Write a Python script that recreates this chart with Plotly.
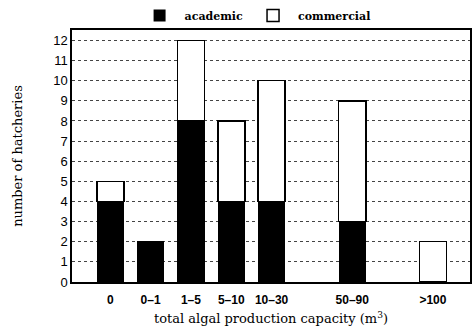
import plotly.graph_objects as go

# Data
bins = ["0", "0-1", "1-5", "5-10", "10-30", "30-50", "50-90", "90-100", ">100"]
labeled_bins = ["0", "0-1", "1-5", "5-10", "10-30", "50-90", ">100"]
tick_labels = ["0", "0\u20131", "1\u20135", "5\u201310", "10\u201330", "50\u201390", ">100"]
academic = [4, 2, 8, 4, 4, 3, 0]
commercial = [1, 0, 4, 4, 6, 6, 2]
y_ticks = list(range(0, 13))

fig = go.Figure()
fig.add_trace(go.Bar(
    x=labeled_bins, y=academic, name="academic",
    marker=dict(color="black", line=dict(color="black", width=0)),
    width=0.68,
))
fig.add_trace(go.Bar(
    x=labeled_bins, y=commercial, name="commercial",
    marker=dict(color="white", line=dict(color="black", width=1.5)),
    width=0.67,
))

fig.update_layout(
    barmode="stack",
    width=473, height=331,
    margin=dict(l=72, r=1, t=28, b=49),
    paper_bgcolor="white", plot_bgcolor="white",
    font=dict(family="DejaVu Serif", color="black", size=12),
    showlegend=True,
    legend=dict(
        orientation="h", x=0.46, xanchor="center", y=1.0, yanchor="bottom",
        font=dict(family="DejaVu Serif", size=11, color="black", weight="bold"),
        itemwidth=40, traceorder="normal", tracegroupgap=0,
        bgcolor="rgba(0,0,0,0)",
    ),
    xaxis=dict(
        type="category", categoryorder="array", categoryarray=bins,
        range=[-0.95, 8.92],
        tickvals=labeled_bins, ticktext=tick_labels,
        tickfont=dict(family="Liberation Sans", size=12, color="black", weight="bold"),
        showgrid=False, showline=True, linecolor="black", linewidth=1.5, mirror=True,
        ticks="outside", ticklen=6, tickcolor="white", zeroline=False,
        title=dict(text="total algal production capacity (m<sup>3</sup>)",
                   font=dict(family="DejaVu Serif", size=13), standoff=8),
    ),
    yaxis=dict(
        range=[0, 12.52], tickvals=y_ticks,
        tickfont=dict(family="Liberation Sans", size=13, color="black"),
        showgrid=True, gridcolor="#444", griddash="dot", gridwidth=1,
        showline=True, linecolor="black", linewidth=1.5, mirror=True,
        ticks="", zeroline=False,
        title=dict(text="number of hatcheries",
                   font=dict(family="DejaVu Serif", size=13), standoff=28),
    ),
)

fig.write_html("out.html")
